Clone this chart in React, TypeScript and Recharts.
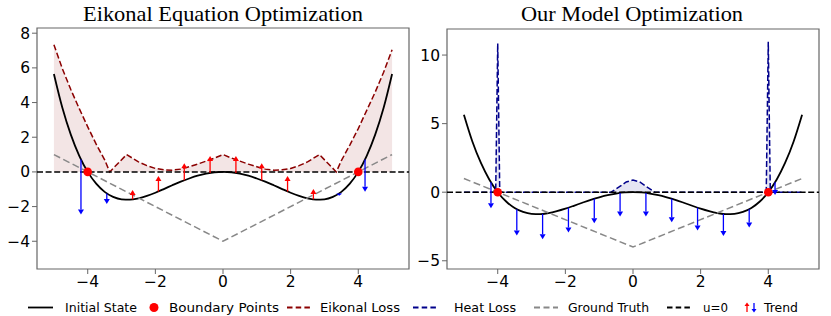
import React from 'react';
import {
  ComposedChart,
  Line,
  Area,
  Scatter,
  XAxis,
  YAxis,
  ReferenceLine,
  ReferenceArea,
} from 'recharts';

// shared x axis
const xDomain = [-5.5, 5.5];
const xTicks = [-4, -2, 0, 2, 4];
const leftYDomain = [-5.6, 8.3];
const leftYTicks = [-4, -2, 0, 2, 4, 6, 8];
const rightYDomain = [-5.6, 11.9];
const rightYTicks = [-5, 0, 5, 10];

// initial state u(x)
const stateX = [-5, -4.75, -4.5, -4.25, -4, -3.75, -3.5, -3.25, -3, -2.75, -2.5, -2.25, -2, -1.75, -1.5, -1.25, -1, -0.75, -0.5, -0.25, 0,
  0.25, 0.5, 0.75, 1, 1.25, 1.5, 1.75, 2, 2.25, 2.5, 2.75, 3, 3.25, 3.5, 3.75, 4, 4.25, 4.5, 4.75, 5];
const initialState = [5.65, 3.7, 2.15, 0.93, 0, -0.68, -1.15, -1.44, -1.58, -1.6, -1.52, -1.38, -1.2, -0.99, -0.77, -0.56, -0.38, -0.22, -0.1, -0.02, 0,
  -0.02, -0.1, -0.22, -0.38, -0.56, -0.77, -0.99, -1.2, -1.38, -1.52, -1.6, -1.58, -1.44, -1.15, -0.68, 0, 0.93, 2.15, 3.7, 5.65];

const groundTruthX = [-5, 0, 5];
const groundTruth = [1, -4, 1];

const boundaryX = [-4, 4];
const boundaryY = [0, 0];

// left panel loss
const eikonalX = [-5, -4.75, -4.5, -4.25, -4, -3.75, -3.5, -3.35, -3.1, -2.85, -2.5, -2.25, -2, -1.75, -1.5, -1.25, -1, -0.75, -0.5, -0.25, 0,
  0.25, 0.5, 0.75, 1, 1.25, 1.5, 1.75, 2, 2.25, 2.5, 2.85, 3.1, 3.35, 3.5, 3.75, 4, 4.25, 4.5, 4.75, 5];
const eikonalLoss = [7.34, 5.95, 4.75, 3.65, 2.6, 1.6, 0.7, 0, 0.5, 1.0, 0.58, 0.36, 0.2, 0.12, 0.1, 0.16, 0.3, 0.45, 0.62, 0.8, 1.0,
  0.8, 0.62, 0.45, 0.3, 0.16, 0.1, 0.12, 0.2, 0.36, 0.58, 1.0, 0.5, 0, 0.65, 1.55, 2.5, 3.55, 4.6, 5.75, 7.05];

// right panel loss
const heatX = [-5, -4.06, -4.0, -3.94, -0.65, -0.4, -0.2, 0, 0.2, 0.4, 0.65, 3.94, 4.0, 4.06, 5];
const heatLoss = [0, 0, 10.85, 0, 0, 0.4, 0.75, 0.88, 0.75, 0.4, 0, 0, 10.97, 0, 0];

// trend arrows
const trendX = [-4.2, -3.436, -2.673, -1.909, -1.145, -0.382, 0.382, 1.145, 1.909, 2.673, 3.436, 4.2];
const trendStart = [0.72, -1.24, -1.58, -1.13, -0.48, -0.06, -0.06, -0.48, -1.13, -1.58, -1.24, 0.72];
const eikonalTrendEnd = [-2.45, -1.85, -1.04, -0.23, 0.5, 0.92, 0.92, 0.5, -0.23, -0.98, -1.38, -1.15];
const heatTrendEnd = [-1.17, -3.16, -3.43, -2.94, -2.26, -1.78, -1.78, -2.19, -2.8, -3.19, -2.58, -0.2];

const zip = (xs: number[], ys: number[]) => xs.map((x, i) => ({ x, y: ys[i] }));

const fmt = (v: number) => (v < 0 ? `\u2212${Math.abs(v)}` : `${v}`);
const SPINE = '#666';

const XTick = (t: any) => (
  <text x={t.x} y={t.y} dy="0.74em" textAnchor="middle" fontSize={15.5} fontFamily="DejaVu Sans" fill="#000">
    {fmt(t.payload.value)}
  </text>
);
const YTick = (t: any) => (
  <text x={t.x} y={t.y} dy="0.36em" textAnchor="end" fontSize={15.5} fontFamily="DejaVu Sans" fill="#000">
    {fmt(t.payload.value)}
  </text>
);

function Arrow(props: any) {
  const { x1, y1, x2, y2, color } = props;
  const dir = y2 > y1 ? 1 : -1;
  const head = Math.min(5, Math.abs(y2 - y1));
  const base = y2 - dir * head;
  return (
    <g>
      <line x1={x1} y1={y1} x2={x2} y2={base} stroke={color} strokeWidth={1.3} />
      <path d={`M${x2 - 3},${base} L${x2 + 3},${base} L${x2},${y2} Z`} fill={color} />
    </g>
  );
}

interface PanelProps {
  left: number;
  width: number;
  yWidth: number;
  marginRight: number;
  marginTop: number;
  yDomain: number[];
  yTicks: number[];
  lossX: number[];
  loss: number[];
  lossColor: string;
  trendEnd: number[];
  arrowUp: string;
  arrowDown: string;
}

function Panel(p: PanelProps) {
  return (
    <div style={{ position: 'absolute', left: p.left, top: 0 }}>
      <ComposedChart width={p.width} height={316} margin={{ top: p.marginTop, right: p.marginRight, bottom: 27, left: 0 }}>
        <XAxis
          type="number"
          dataKey="x"
          domain={xDomain}
          ticks={xTicks}
          allowDataOverflow
          axisLine={false}
          tickLine={{ stroke: SPINE }}
          tickSize={5}
          height={20}
          tick={XTick}
        />
        <YAxis
          type="number"
          dataKey="y"
          domain={p.yDomain}
          ticks={p.yTicks}
          allowDataOverflow
          axisLine={false}
          tickLine={{ stroke: SPINE }}
          tickSize={5}
          width={p.yWidth}
          tick={YTick}
        />
        <Area
          data={zip(p.lossX, p.loss)}
          dataKey="y"
          type="linear"
          baseValue={0}
          stroke="none"
          fill={p.lossColor}
          fillOpacity={0.1}
          isAnimationActive={false}
        />
        <Line data={zip(stateX, initialState)} dataKey="y" type="monotone" stroke="#000" strokeWidth={1.8} dot={false} isAnimationActive={false} />
        <Line data={zip(p.lossX, p.loss)} dataKey="y" type="linear" stroke={p.lossColor} strokeWidth={1.5} strokeDasharray="6 2.6" dot={false} isAnimationActive={false} />
        <Line data={zip(groundTruthX, groundTruth)} dataKey="y" type="linear" stroke="#888" strokeWidth={1.5} strokeDasharray="7 3.5" dot={false} isAnimationActive={false} />
        <ReferenceLine y={0} stroke="#000" strokeWidth={1.5} strokeDasharray="6 2.6" />
        {trendX.map((x, i) => {
          const color = p.trendEnd[i] > trendStart[i] ? p.arrowUp : p.arrowDown;
          return (
            <ReferenceLine
              key={i}
              segment={[{ x, y: trendStart[i] }, { x, y: p.trendEnd[i] }]}
              ifOverflow="visible"
              shape={(sp: any) => <Arrow {...sp} color={color} />}
            />
          );
        })}
        <Scatter
          data={zip(boundaryX, boundaryY)}
          dataKey="y"
          fill="#ff0000"
          isAnimationActive={false}
          shape={(sp: any) => <circle cx={sp.cx} cy={sp.cy} r={4.3} fill="#ff0000" />}
        />
        <ReferenceArea
          x1={xDomain[0]}
          x2={xDomain[1]}
          y1={p.yDomain[0]}
          y2={p.yDomain[1]}
          fill="none"
          fillOpacity={0}
          stroke={SPINE}
          strokeWidth={1.2}
          ifOverflow="visible"
        />
      </ComposedChart>
    </div>
  );
}

function Overlay() {
  const lg = { fontFamily: 'DejaVu Sans', fontSize: 13, fill: '#000' };
  const ly = 307.5;
  return (
    <svg width={831} height={316} style={{ position: 'absolute', left: 0, top: 0, pointerEvents: 'none' }}>
      <text x={223} y={21} textAnchor="middle" fontFamily="Liberation Serif" fontSize={21.5} textLength={280} lengthAdjust="spacingAndGlyphs">
        Eikonal Equation Optimization
      </text>
      <text x={632} y={21} textAnchor="middle" fontFamily="Liberation Serif" fontSize={21.5} textLength={222} lengthAdjust="spacingAndGlyphs">
        Our Model Optimization
      </text>

      <line x1={28} x2={53} y1={ly} y2={ly} stroke="#000" strokeWidth={1.8} />
      <text x={65} y={312} {...lg} textLength={72} lengthAdjust="spacingAndGlyphs">Initial State</text>

      <circle cx={154} cy={ly} r={4.5} fill="#ff0000" />
      <text x={169} y={312} {...lg} textLength={110} lengthAdjust="spacingAndGlyphs">Boundary Points</text>

      <line x1={287} x2={310} y1={ly} y2={ly} stroke="#8b0000" strokeWidth={1.8} strokeDasharray="5.5 3.2" />
      <text x={320} y={312} {...lg} textLength={80} lengthAdjust="spacingAndGlyphs">Eikonal Loss</text>

      <line x1={413} x2={436} y1={ly} y2={ly} stroke="#00008b" strokeWidth={1.8} strokeDasharray="5.5 3.2" />
      <text x={454} y={312} {...lg} textLength={62} lengthAdjust="spacingAndGlyphs">Heat Loss</text>

      <line x1={534} x2={558} y1={ly} y2={ly} stroke="#888" strokeWidth={1.8} strokeDasharray="6 3.5" />
      <text x={568} y={312} {...lg} textLength={81} lengthAdjust="spacingAndGlyphs">Ground Truth</text>

      <line x1={667} x2={693} y1={ly} y2={ly} stroke="#000" strokeWidth={1.8} strokeDasharray="5.5 3.2" />
      <text x={703} y={312} {...lg} textLength={25} lengthAdjust="spacingAndGlyphs">u=0</text>

      <line x1={747} x2={747} y1={312} y2={306} stroke="#ff0000" strokeWidth={1.3} />
      <path d="M744.5,306 L749.5,306 L747,302.5 Z" fill="#ff0000" />
      <line x1={754} x2={754} y1={303} y2={309} stroke="#0000ff" strokeWidth={1.3} />
      <path d="M751.5,309 L756.5,309 L754,312.5 Z" fill="#0000ff" />
      <text x={764} y={312} {...lg} textLength={34} lengthAdjust="spacingAndGlyphs">Trend</text>
    </svg>
  );
}

export default function App() {
  return (
    <div style={{ position: 'absolute', left: 0, top: 0, width: 831, height: 316, background: '#fff' }}>
      <Panel
        left={0}
        width={415}
        yWidth={37}
        marginRight={6}
        marginTop={28}
        yDomain={leftYDomain}
        yTicks={leftYTicks}
        lossX={eikonalX}
        loss={eikonalLoss}
        lossColor="#8b0000"
        trendEnd={eikonalTrendEnd}
        arrowUp="#ff0000"
        arrowDown="#0000ff"
      />
      <Panel
        left={415}
        width={416}
        yWidth={32}
        marginRight={12}
        marginTop={29}
        yDomain={rightYDomain}
        yTicks={rightYTicks}
        lossX={heatX}
        loss={heatLoss}
        lossColor="#00008b"
        trendEnd={heatTrendEnd}
        arrowUp="#0000ff"
        arrowDown="#0000ff"
      />
      <Overlay />
    </div>
  );
}
